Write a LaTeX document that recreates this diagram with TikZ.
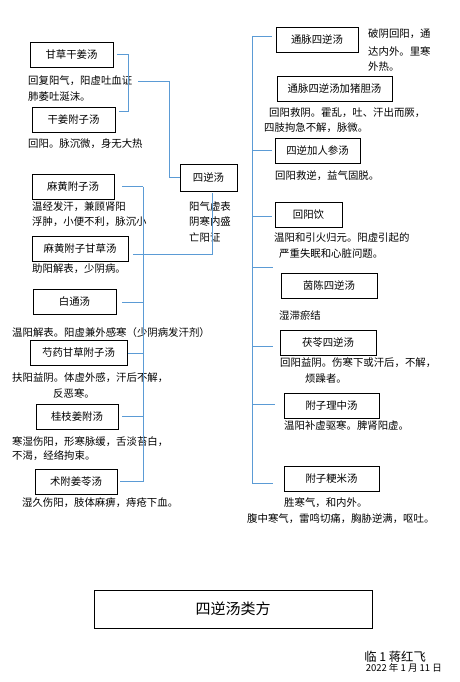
\documentclass[tikz,border=0pt]{standalone}
\usepackage{fontspec}
\setmainfont{Noto Sans CJK SC}
\usepackage{tikz}
\usetikzlibrary{positioning}
\usepackage{xcolor}
\definecolor{xianlan}{RGB}{91,155,213}

\begin{document}
\begin{tikzpicture}[x=1pt, y=-1pt,
    fang/.style={draw, line width=0.8pt, inner sep=0pt, minimum height=25pt, font=\fontsize{10.4}{12}\selectfont},
    shuo/.style={anchor=west, inner sep=0pt, font=\fontsize{10.4}{12}\selectfont},
    zhi/.style={draw=xianlan, line width=0.9pt}]
        \fill[white] (0,0) rectangle (460,682);

        % Left column boxes
        \node[fang, minimum width=83pt] (gcgj)   at (71.5,54.5)  {甘草干姜汤};
        \node[fang, minimum width=83pt] (gjfz)   at (73.5,119.5) {干姜附子汤};
        \node[fang, minimum width=82pt] (mhfz)   at (73,186.5)   {麻黄附子汤};
        \node[fang, minimum width=96pt] (mhfzgc) at (80,248.5)   {麻黄附子甘草汤};
        \node[fang, minimum width=83pt] (bt)     at (74.5,302)   {白通汤};
        \node[fang, minimum width=97pt] (sygc)   at (78.5,353)   {芍药甘草附子汤};
        \node[fang, minimum width=82pt] (gzjf)   at (77,416.5)   {桂枝姜附汤};
        \node[fang, minimum width=82pt] (sfjl)   at (76,481.5)   {术附姜苓汤};

        % Left column notes
        \node[shuo] (gc1) at (28,81)  {回复阳气，阳虚吐血证};
        \node[shuo] (gc2) at (28,97)  {肺萎吐涎沫。};
        \node[shuo] (gj1) at (28,144) {回阳。脉沉微，身无大热};
        \node[shuo] (mh1) at (32,207) {温经发汗，兼顾肾阳};
        \node[shuo] (mh2) at (32,222) {浮肿，小便不利，脉沉小};
        \node[shuo] (mh3) at (32,269) {助阳解表，少阴病。};
        \node[shuo] (bt1) at (12,333) {温阳解表。阳虚兼外感寒（少阴病发汗剂）};
        \node[shuo] (sy1) at (12,378) {扶阳益阴。体虚外感，汗后不解，};
        \node[shuo] (sy2) at (53,394) {反恶寒。};
        \node[shuo] (gz1) at (12,442) {寒湿伤阳，形寒脉缓，舌淡苔白，};
        \node[shuo] (gz2) at (12,456) {不渴，经络拘束。};
        \node[shuo] (sf1) at (22,503) {湿久伤阳，肢体麻痹，痔疮下血。};

        % Middle
        \node[fang, minimum width=57pt, minimum height=27pt] (sny) at (208.5,177.5) {四逆汤};
        \node[shuo] (sn1) at (189,207) {阳气虚表};
        \node[shuo] (sn2) at (189,222) {阴寒内盛};
        \node[shuo] (sn3) at (189,238) {亡阳证};

        % Right column boxes
        \node[fang, minimum width=82pt]  (tmsn) at (317,39.5)  {通脉四逆汤};
        \node[fang, minimum width=115pt] (tmzd) at (334.5,89)  {通脉四逆汤加猪胆汤};
        \node[fang, minimum width=85pt]  (snrs) at (317.5,150.5) {四逆加人参汤};
        \node[fang, minimum width=67pt]  (hyy)  at (308.5,214.5) {回阳饮};
        \node[fang, minimum width=96pt]  (ycsn) at (329,285.5) {茵陈四逆汤};
        \node[fang, minimum width=96pt]  (flsn) at (328,342.5) {茯苓四逆汤};
        \node[fang, minimum width=95pt]  (fzlz) at (331.5,405.5) {附子理中汤};
        \node[fang, minimum width=95pt]  (fzjm) at (331.5,479) {附子粳米汤};

        % Right column notes
        \node[shuo] (tm1) at (368,34)  {破阴回阳，通};
        \node[shuo] (tm2) at (368,52)  {达内外。里寒};
        \node[shuo] (tm3) at (368,67)  {外热。};
        \node[shuo] (zd1) at (269,113) {回阳救阴。霍乱，吐、汗出而厥，};
        \node[shuo] (zd2) at (264,128) {四肢拘急不解，脉微。};
        \node[shuo] (rs1) at (275,176) {回阳救逆，益气固脱。};
        \node[shuo] (hy1) at (274,238) {温阳和引火归元。阳虚引起的};
        \node[shuo] (hy2) at (279,254) {严重失眠和心脏问题。};
        \node[shuo] (yc1) at (279,316) {湿滞瘀结};
        \node[shuo] (fl1) at (280,363) {回阳益阴。伤寒下或汗后，不解，};
        \node[shuo] (fl2) at (305,379) {烦躁者。};
        \node[shuo] (lz1) at (284,426) {温阳补虚驱寒。脾肾阳虚。};
        \node[shuo] (jm1) at (284,503) {胜寒气，和内外。};
        \node[shuo] (jm2) at (247,519) {腹中寒气，雷鸣切痛，胸胁逆满，呕吐。};

        % Title and signature
        \node[draw, line width=0.8pt, minimum width=278pt, minimum height=38pt, inner sep=0pt,
              font=\fontsize{15}{18}\selectfont] (biaoti) at (233,609) {四逆汤类方};
        \node[anchor=east, inner sep=0pt, font=\fontsize{12.3}{14}\selectfont] (qianming) at (426,657) {临 1 蒋红飞};
        \node[anchor=east, inner sep=0pt, font=\fontsize{9.5}{11}\selectfont] (riqi) at (442,668) {2022 年 1 月 11 日};

        % Spines
        \coordinate (zuozhu) at (143,0);
        \coordinate (youzhu) at (252,0);

        % Top left bracket
        \draw[zhi] ([xshift=4pt]gcgj.east) -| ([xshift=13pt,yshift=8.5pt]gjfz.east) -- ([xshift=4pt,yshift=8.5pt]gjfz.east);
        \draw[zhi] ([xshift=6pt]gc1.east) -| ([xshift=-10pt]sny.west) -- (sny.west);

        % Lower left bracket
        \draw[zhi] (mhfz.east -| zuozhu) -- (sfjl.east -| zuozhu);
        \draw[zhi] ([xshift=8pt]mhfz.east) -- (mhfz.east -| zuozhu);
        \draw[zhi] ([xshift=5pt,yshift=-5.5pt]mhfzgc.east) -| ([xshift=3.5pt,yshift=-2pt]sny.south);
        \draw[zhi] ([xshift=6pt]bt.east) -- (bt.east -| zuozhu);
        \draw[zhi] ([xshift=1pt]sygc.east) -- (sygc.east -| zuozhu);
        \draw[zhi] ([xshift=4pt]gzjf.east) -- (gzjf.east -| zuozhu);
        \draw[zhi] ([xshift=3pt]sfjl.east) -- (sfjl.east -| zuozhu);

        % Right bracket
        \draw[zhi] ([yshift=3.5pt]tmsn.west -| youzhu) -- ([yshift=-4pt]fzjm.west -| youzhu);
        \draw[zhi] ([xshift=-4pt,yshift=3.5pt]tmsn.west) -- ([yshift=3.5pt]tmsn.west -| youzhu);
        \draw[zhi] ([xshift=-3pt]snrs.west) -- (snrs.west -| youzhu);
        \draw[zhi] ([xshift=-3pt,yshift=-1.5pt]hyy.west) -- ([yshift=-1.5pt]hyy.west -| youzhu);
        \draw[zhi] ([xshift=-8pt,yshift=18.5pt]ycsn.west) -- ([yshift=18.5pt]ycsn.west -| youzhu);
        \draw[zhi] ([xshift=-7pt,yshift=-3.5pt]flsn.west) -- ([yshift=-3.5pt]flsn.west -| youzhu);
        \draw[zhi] ([xshift=-9pt,yshift=1.5pt]fzlz.west) -- ([yshift=1.5pt]fzlz.west -| youzhu);
        \draw[zhi] ([xshift=-11pt,yshift=-4pt]fzjm.west) -- ([yshift=-4pt]fzjm.west -| youzhu);
    \end{tikzpicture}
\end{document}
